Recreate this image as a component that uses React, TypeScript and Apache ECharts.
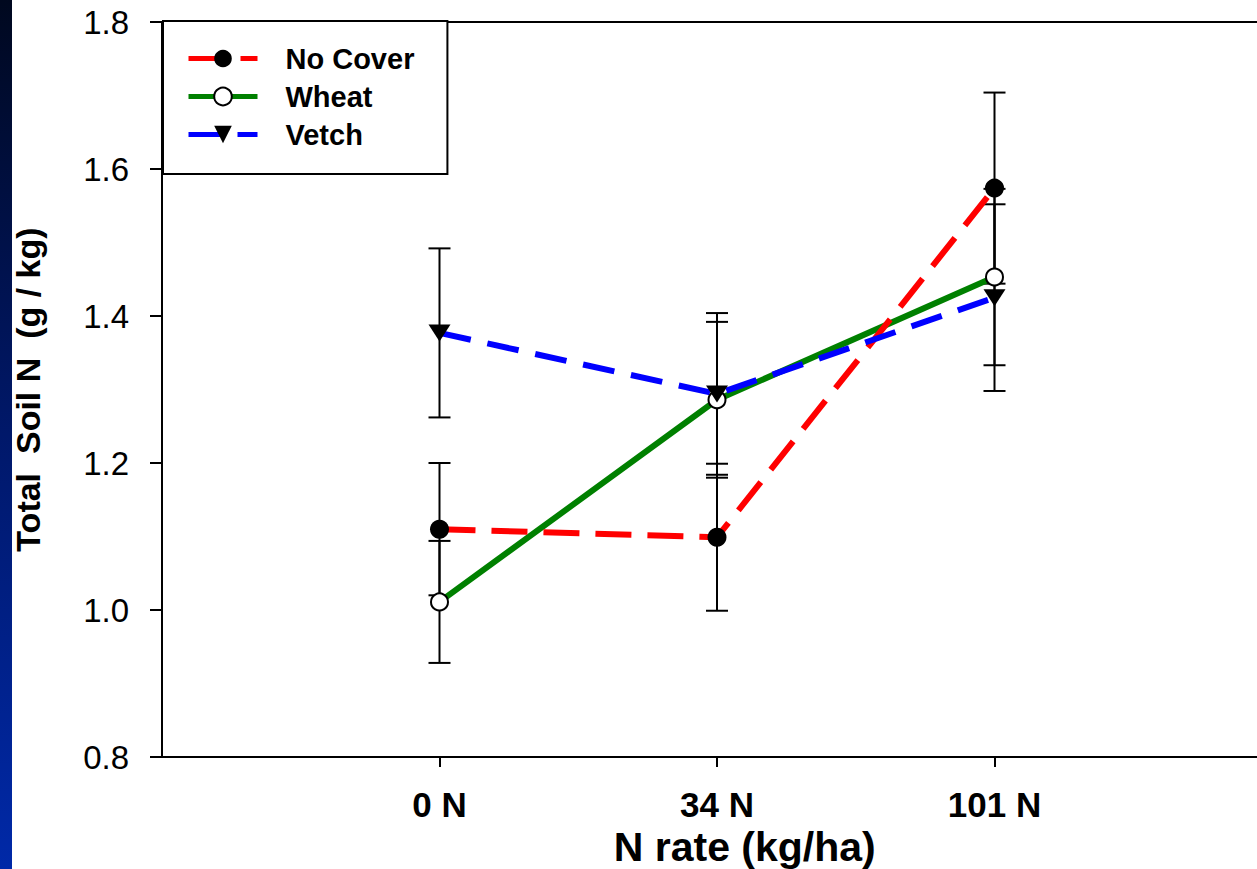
import React, { useEffect, useRef } from "react";
import * as echarts from "echarts";

const categories = ["0 N", "34 N", "101 N"];
const seriesNames = ["No Cover", "Wheat", "Vetch"];
const noCoverMean = [1.11, 1.099, 1.574];
const noCoverErr = [0.09, 0.1, 0.13];
const wheatMean = [1.011, 1.286, 1.453];
const wheatErr = [0.083, 0.106, 0.12];
const vetchMean = [1.377, 1.294, 1.425];
const vetchErr = [0.115, 0.11, 0.127];
const yTicks = [0.8, 1.0, 1.2, 1.4, 1.6, 1.8];

const FONT = "'Liberation Sans', Arial, Helvetica, sans-serif";
const TRI = "path://M0,0 L20,0 L10,15 Z";

function pts(mean: number[]) {
  return mean.map((v, i) => [i, v]);
}
function errs(mean: number[], err: number[]) {
  return mean.map((v, i) => [i, v - err[i], v + err[i]]);
}

function errorSeries(name: string, mean: number[], err: number[]) {
  return {
    type: "custom",
    name: name + " err",
    z: 1,
    silent: true,
    data: errs(mean, err),
    encode: { x: 0, y: [1, 2] },
    renderItem: (params: any, api: any) => {
      const x = api.value(0);
      const lo = api.coord([x, api.value(1)]);
      const hi = api.coord([x, api.value(2)]);
      const half = 11;
      const st = { stroke: "#000", lineWidth: 2 };
      return {
        type: "group",
        children: [
          { type: "line", shape: { x1: lo[0], y1: lo[1], x2: hi[0], y2: hi[1] }, style: st },
          { type: "line", shape: { x1: lo[0] - half, y1: lo[1], x2: lo[0] + half, y2: lo[1] }, style: st },
          { type: "line", shape: { x1: hi[0] - half, y1: hi[1], x2: hi[0] + half, y2: hi[1] }, style: st },
        ],
      };
    },
  };
}

export default function App() {
  const ref = useRef<HTMLDivElement>(null);
  useEffect(() => {
    if (!ref.current) return;
    const chart = echarts.init(ref.current, null, { renderer: "svg" });
    const option: any = {
      animation: false,
      backgroundColor: "#fff",
      textStyle: { fontFamily: FONT },
      graphic: [
        {
          type: "rect",
          left: 0,
          top: 0,
          z: -10,
          shape: { width: 12, height: 869 },
          style: {
            fill: new echarts.graphic.LinearGradient(0, 0, 0, 1, [
              { offset: 0, color: "#00081f" },
              { offset: 0.5, color: "#00186a" },
              { offset: 1, color: "#0029a8" },
            ]),
          },
        },
      ],
      grid: {
        left: 162,
        top: 22,
        bottom: 112,
        right: -70.5,
        containLabel: false,
        outerBoundsMode: "none",
      },
      legend: {
        data: seriesNames,
        orient: "vertical",
        left: 163,
        top: 21,
        backgroundColor: "#fff",
        borderColor: "#000",
        borderWidth: 2,
        borderRadius: 0,
        padding: [23, 33, 25, 23],
        itemWidth: 69,
        itemHeight: 22,
        itemGap: 9,
        z: 10,
        lineStyle: { width: 5 },
        textStyle: {
          fontFamily: FONT,
          fontWeight: "bold",
          fontSize: 29,
          lineHeight: 29,
          color: "#000",
          padding: [0, 0, 0, 23],
        },
      },
      xAxis: [
        {
          type: "value",
          min: -1,
          max: 3.2,
          interval: 1,
          name: "N rate (kg/ha)",
          nameLocation: "middle",
          nameGap: 64,
          nameTextStyle: { fontFamily: FONT, fontWeight: "bold", fontSize: 41, lineHeight: 41, color: "#000" },
          axisLine: { show: true, onZero: false, lineStyle: { color: "#000", width: 2 } },
          axisTick: { show: true, length: 10, lineStyle: { color: "#000", width: 2 }, customValues: [0, 1, 2] },
          axisLabel: {
            customValues: [0, 1, 2],
            margin: 30,
            fontFamily: FONT,
            fontWeight: "bold",
            fontSize: 35,
            color: "#000",
            formatter: (v: number) => (categories[Math.round(v)] !== undefined && Math.abs(v - Math.round(v)) < 1e-6 ? categories[Math.round(v)] : ""),
          },
          splitLine: { show: false },
        },
        {
          type: "value",
          position: "top",
          min: -1,
          max: 3.2,
          axisLine: { show: true, onZero: false, lineStyle: { color: "#000", width: 2 } },
          axisTick: { show: false },
          axisLabel: { show: false },
          splitLine: { show: false },
        },
      ],
      yAxis: {
        type: "value",
        min: 0.8,
        max: 1.8,
        interval: 0.2,
        name: "Total  Soil N  (g / kg)",
        nameLocation: "middle",
        nameGap: 117,
        nameTextStyle: { fontFamily: FONT, fontWeight: "bold", fontSize: 34, color: "#000" },
        axisLine: { show: true, onZero: false, lineStyle: { color: "#000", width: 2 } },
        axisTick: { show: true, inside: false, length: 12, lineStyle: { color: "#000", width: 2 } },
        axisLabel: {
          margin: 33,
          fontFamily: FONT,
          fontSize: 33,
          color: "#000",
          formatter: (v: number) => v.toFixed(1),
          customValues: yTicks,
        },
        splitLine: { show: false },
      },
      series: [
        errorSeries("Wheat", wheatMean, wheatErr),
        errorSeries("No Cover", noCoverMean, noCoverErr),
        errorSeries("Vetch", vetchMean, vetchErr),
        {
          type: "line",
          name: "Wheat",
          z: 3,
          data: pts(wheatMean),
          symbol: "circle",
          symbolSize: 17,
          itemStyle: { color: "#fff", borderColor: "#000", borderWidth: 2 },
          lineStyle: { color: "#008000", width: 6, type: "solid" },
        },
        {
          type: "line",
          name: "No Cover",
          z: 3,
          data: pts(noCoverMean),
          symbol: "circle",
          symbolSize: 19,
          itemStyle: { color: "#000" },
          lineStyle: { color: "#ff0000", width: 6, type: [36, 16] },
        },
        {
          type: "line",
          name: "Vetch",
          z: 3,
          data: pts(vetchMean),
          symbol: TRI,
          symbolSize: [22, 17],
          itemStyle: { color: "#000" },
          lineStyle: { color: "#0000ff", width: 6, type: [32, 17] },
        },
      ],
    };
    chart.setOption(option);
    return () => chart.dispose();
  }, []);
  return (
    <div
      ref={ref}
      style={{ position: "fixed", left: 0, top: 0, width: 1257, height: 869, background: "#fff" }}
    />
  );
}
